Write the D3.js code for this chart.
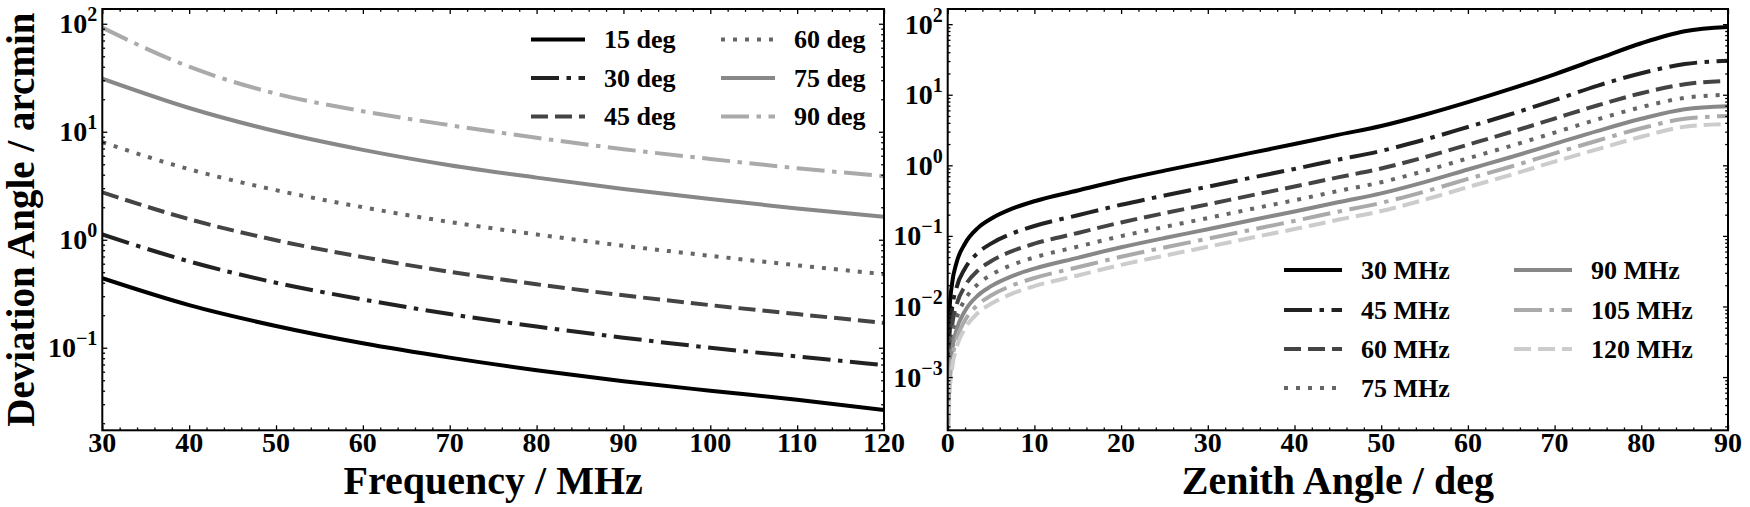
<!DOCTYPE html>
<html>
<head>
<meta charset="utf-8">
<script src="https://cdn.jsdelivr.net/npm/d3@7"></script>
<style>
body { margin: 0; background: #fff; }
text { font-family: "Liberation Serif", "Times New Roman", serif; font-weight: bold; fill: #000; }
</style>
</head>
<body>
<svg width="1750" height="507"></svg>
<script>
// left panel: deviation vs frequency, one series per zenith angle
const freqMHz = [30, 40, 50, 60, 70, 80, 90, 100, 110, 120];
const dev15 = [0.44, 0.248, 0.159, 0.11, 0.081, 0.062, 0.049, 0.040, 0.033, 0.0265];
const dev30 = [1.12, 0.63, 0.40, 0.28, 0.205, 0.157, 0.124, 0.10, 0.083, 0.069];
const dev45 = [2.75, 1.55, 0.99, 0.69, 0.505, 0.387, 0.306, 0.248, 0.205, 0.17];
const dev60 = [8.0, 4.5, 2.88, 2.0, 1.46, 1.12, 0.88, 0.71, 0.58, 0.48];
const dev75 = [31, 16.6, 10.1, 6.8, 4.9, 3.76, 2.95, 2.38, 1.95, 1.63];
const dev90 = [92, 40, 22.5, 15.5, 11.5, 8.8, 6.9, 5.6, 4.6, 3.88];
const zenithNames = ["15 deg", "30 deg", "45 deg", "60 deg", "75 deg", "90 deg"];

// right panel: deviation vs zenith angle, one series per frequency
const zenithDeg = [0.002, 0.01, 0.05, 0.2, 0.5, 1, 2, 3.5, 5, 7.5, 10, 15, 20, 25, 30, 35, 40, 45, 50, 55, 60, 65, 70, 75, 80, 85, 90];
const mhz30 = [0.000085, 0.00042, 0.0021, 0.0084, 0.021, 0.041, 0.078, 0.13, 0.175, 0.245, 0.31, 0.44, 0.62, 0.84, 1.12, 1.5, 2.0, 2.7, 3.6, 5.2, 7.85, 12.2, 19.5, 32.4, 53.7, 79.4, 91];
const mhz45 = [0.000038, 0.000187, 0.00093, 0.0037, 0.0093, 0.0182, 0.0347, 0.0578, 0.0778, 0.109, 0.138, 0.196, 0.276, 0.373, 0.498, 0.667, 0.889, 1.2, 1.6, 2.31, 3.49, 5.33, 8.39, 13.5, 20.2, 27.2, 30.2];
const mhz60 = [0.000021, 0.000105, 0.00053, 0.0021, 0.0053, 0.0103, 0.0195, 0.0325, 0.0438, 0.0613, 0.0775, 0.11, 0.155, 0.21, 0.28, 0.375, 0.5, 0.675, 0.9, 1.3, 1.96, 2.97, 4.6, 7.1, 10.5, 14.1, 15.7];
const mhz75 = [0.0000136, 0.0000672, 0.000336, 0.00134, 0.00336, 0.00656, 0.0125, 0.0208, 0.028, 0.0392, 0.0496, 0.0704, 0.0992, 0.134, 0.179, 0.24, 0.32, 0.432, 0.576, 0.832, 1.256, 1.89, 2.91, 4.49, 6.68, 9.02, 10.0];
const mhz90 = [0.0000094, 0.0000467, 0.000233, 0.000933, 0.00233, 0.00456, 0.00867, 0.0144, 0.0194, 0.0272, 0.0344, 0.0489, 0.0689, 0.0933, 0.124, 0.167, 0.222, 0.3, 0.4, 0.578, 0.872, 1.31, 2.01, 3.08, 4.57, 6.24, 6.89];
const mhz105 = [0.0000069, 0.0000343, 0.000171, 0.000686, 0.00171, 0.00335, 0.00637, 0.0106, 0.0143, 0.02, 0.0253, 0.0359, 0.0506, 0.0686, 0.0914, 0.122, 0.163, 0.22, 0.294, 0.424, 0.641, 0.962, 1.48, 2.25, 3.35, 4.57, 5.01];
const mhz120 = [0.0000053, 0.0000263, 0.000131, 0.000525, 0.00131, 0.00256, 0.00488, 0.00813, 0.0109, 0.0153, 0.0194, 0.0275, 0.0388, 0.0525, 0.07, 0.094, 0.125, 0.169, 0.225, 0.325, 0.491, 0.736, 1.13, 1.70, 2.54, 3.51, 3.85];
const freqNames = ["30 MHz", "45 MHz", "60 MHz", "75 MHz", "90 MHz", "105 MHz", "120 MHz"];

// line styles, in plotting order
const styles = [
  { color: "#000000", dash: null },
  { color: "#222222", dash: "28,7.5,4.5,7.5" },
  { color: "#444444", dash: "17,7" },
  { color: "#666666", dash: "4,8" },
  { color: "#888888", dash: null },
  { color: "#aaaaaa", dash: "28,7.5,4.5,7.5" },
  { color: "#cccccc", dash: "17,7" }
];

const svg = d3.select("svg");
const plotTop = 9, plotBottom = 430.3;
const lw = 4;

function panel(o) {
  const x = d3.scaleLinear().domain(o.xDomain).range([o.x0, o.x1]);
  const y = d3.scaleLog().domain(o.yDomain).range([plotBottom, plotTop]);
  const g = svg.append("g");

  const clipId = "clip" + o.id;
  svg.append("clipPath").attr("id", clipId)
    .append("rect").attr("x", o.x0).attr("y", plotTop)
    .attr("width", o.x1 - o.x0).attr("height", plotBottom - plotTop);

  const line = d3.line()
    .x(d => x(d[0]))
    .y(d => y(d[1]))
    .curve(d3.curveMonotoneX);

  g.append("g").attr("clip-path", `url(#${clipId})`)
    .selectAll("path")
    .data(o.series)
    .enter()
    .append("path")
    .attr("d", s => line(o.xs.map((v, i) => [v, s[i]])))
    .attr("fill", "none")
    .attr("stroke", (s, i) => styles[i].color)
    .attr("stroke-width", lw)
    .attr("stroke-dasharray", (s, i) => styles[i].dash);

  // ticks
  const xMajor = d3.range(o.xDomain[0], o.xDomain[1] + 0.1, 10);
  const xMinor = d3.range(o.xDomain[0], o.xDomain[1] + 0.1, 2).filter(v => v % 10 !== 0);
  const lo = Math.floor(Math.log10(o.yDomain[0])), hi = Math.ceil(Math.log10(o.yDomain[1]));
  const yMajor = [], yMinor = [];
  for (let k = lo; k <= hi; k++) {
    const p = Math.pow(10, k);
    if (p >= o.yDomain[0] && p <= o.yDomain[1]) yMajor.push(p);
    for (let m = 2; m <= 9; m++) {
      const v = m * p;
      if (v >= o.yDomain[0] && v <= o.yDomain[1]) yMinor.push(v);
    }
  }
  const addAxis = (axis, tr) => {
    const a = g.append("g").attr("transform", tr).call(axis);
    a.select(".domain").remove();
    a.selectAll("line").attr("stroke", "#000").attr("stroke-width", 1.3);
  };
  [[xMajor, 5], [xMinor, 2.8]].forEach(([vals, len]) => {
    addAxis(d3.axisBottom(x).tickValues(vals).tickSize(-len).tickFormat(""), `translate(0,${plotBottom})`);
    addAxis(d3.axisTop(x).tickValues(vals).tickSize(-len).tickFormat(""), `translate(0,${plotTop})`);
  });
  [[yMajor, 5], [yMinor, 2.8]].forEach(([vals, len]) => {
    addAxis(d3.axisLeft(y).tickValues(vals).tickSize(-len).tickFormat(""), `translate(${o.x0},0)`);
    addAxis(d3.axisRight(y).tickValues(vals).tickSize(-len).tickFormat(""), `translate(${o.x1},0)`);
  });

  g.append("rect")
    .attr("x", o.x0).attr("y", plotTop)
    .attr("width", o.x1 - o.x0).attr("height", plotBottom - plotTop)
    .attr("fill", "none").attr("stroke", "#000").attr("stroke-width", 2);

  // tick labels
  g.selectAll(".xl").data(xMajor).enter().append("text")
    .attr("x", d => x(d)).attr("y", plotBottom + 22)
    .attr("text-anchor", "middle").attr("font-size", 28)
    .text(d => d);

  const yl = g.selectAll(".yl").data(yMajor).enter().append("text")
    .attr("x", o.x0 - 5).attr("y", d => y(d) + 9.5)
    .attr("text-anchor", "end").attr("font-size", 28);
  yl.append("tspan").text("10");
  yl.append("tspan").attr("dy", -12).attr("font-size", 20)
    .text(d => { const e = Math.round(Math.log10(d)); return e < 0 ? "\u2212" + (-e) : e; });

  // axis titles
  g.append("text")
    .attr("x", (o.x0 + o.x1) / 2).attr("y", 494)
    .attr("text-anchor", "middle").attr("font-size", 40)
    .text(o.xLabel);
  if (o.yLabel) {
    g.append("text")
      .attr("transform", `translate(34,${(plotTop + plotBottom) / 2}) rotate(-90)`)
      .attr("text-anchor", "middle").attr("font-size", 39)
      .text(o.yLabel);
  }

  // legend
  const leg = g.append("g");
  o.names.forEach((name, i) => {
    const col = Math.floor(i / o.legend.rows), row = i % o.legend.rows;
    const lx = o.legend.cols[col], ly = o.legend.ys[row];
    leg.append("line")
      .attr("x1", lx).attr("x2", lx + o.legend.len)
      .attr("y1", ly).attr("y2", ly)
      .attr("stroke", styles[i].color).attr("stroke-width", lw)
      .attr("stroke-dasharray", styles[i].dash);
    leg.append("text")
      .attr("x", lx + o.legend.len + 19).attr("y", ly + 8.5)
      .attr("font-size", 26)
      .text(name);
  });
}

panel({
  id: "a", x0: 102.3, x1: 884,
  xDomain: [30, 120], yDomain: [0.0172, 137],
  xs: freqMHz,
  series: [dev15, dev30, dev45, dev60, dev75, dev90],
  names: zenithNames,
  xLabel: "Frequency / MHz", yLabel: "Deviation Angle / arcmin",
  legend: { rows: 3, cols: [531, 721], ys: [39.5, 78, 116.5], len: 54 }
});

panel({
  id: "b", x0: 947.7, x1: 1728,
  xDomain: [0, 90], yDomain: [0.000176, 164],
  xs: zenithDeg,
  series: [mhz30, mhz45, mhz60, mhz75, mhz90, mhz105, mhz120],
  names: freqNames,
  xLabel: "Zenith Angle / deg", yLabel: null,
  legend: { rows: 4, cols: [1284, 1514], ys: [270, 310, 349, 388], len: 58 }
});
</script>
</body>
</html>
